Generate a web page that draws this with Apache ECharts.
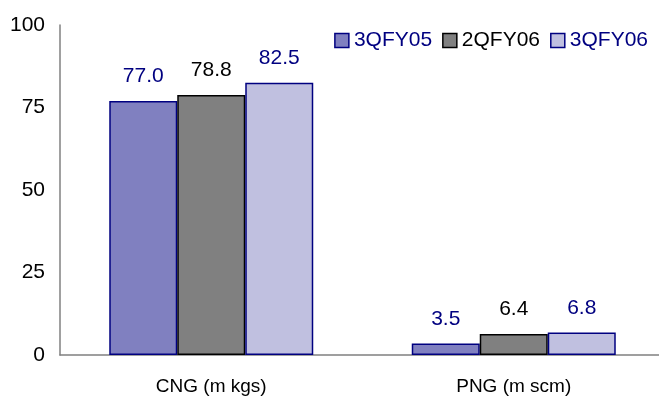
<!DOCTYPE html>
<html><head><meta charset="utf-8">
<script src="https://cdn.jsdelivr.net/npm/echarts@6/dist/echarts.min.js"></script>
<style>html,body{margin:0;padding:0;background:#fff}#c{width:659px;height:396px}</style>
</head><body><div id="c"></div>
<script>
const categories = ["CNG (m kgs)", "PNG (m scm)"];
const seriesNames = ["3QFY05", "2QFY06", "3QFY06"];
const s3QFY05 = [77.0, 3.5];
const s2QFY06 = [78.8, 6.4];
const s3QFY06 = [82.5, 6.8];
const yTicks = [0, 25, 50, 75, 100];

const FONT = "Liberation Sans, Arial, sans-serif";
const styles = [
  {fill: "#8080C0", border: "#000080", text: "#000080"},
  {fill: "#808080", border: "#000000", text: "#000000"},
  {fill: "#C0C0E0", border: "#000080", text: "#000080"}
];
const data = [s3QFY05, s2QFY06, s3QFY06];

const chart = echarts.init(document.getElementById("c"));
chart.setOption({
  animation: false,
  backgroundColor: "#fff",
  textStyle: {fontFamily: FONT},
  legend: {
    right: 6, top: 25,
    icon: "rect",
    itemWidth: 14, itemHeight: 14, itemGap: 10,
    data: seriesNames.map((n, i) => ({
      name: n,
      itemStyle: {color: styles[i].fill, borderColor: styles[i].border, borderWidth: 1.5},
      textStyle: {color: styles[i].text, fontSize: 21, fontFamily: FONT}
    })),
    textStyle: {fontSize: 21, fontFamily: FONT}
  },
  grid: {left: 60, top: 25, width: 605, height: 330, outerBoundsMode: "none", containLabel: false},
  xAxis: {
    type: "category",
    data: categories,
    axisLine: {lineStyle: {color: "#808080", width: 1.5}},
    axisTick: {show: false},
    axisLabel: {color: "#000", fontSize: 19, fontFamily: FONT, margin: 22}
  },
  yAxis: {
    type: "value",
    min: yTicks[0], max: yTicks[yTicks.length - 1], interval: 25,
    splitLine: {show: false},
    axisLine: {show: true, lineStyle: {color: "#808080", width: 1.5}},
    axisTick: {show: false},
    axisLabel: {color: "#000", fontSize: 21, fontFamily: FONT, margin: 15}
  },
  series: seriesNames.map((n, i) => ({
    name: n,
    type: "bar",
    data: data[i],
    barWidth: 68,
    barGap: "0%",
    itemStyle: {color: styles[i].fill, borderColor: styles[i].border, borderWidth: 1.5},
    label: {
      show: true, position: "top", distance: 14,
      color: styles[i].text, fontSize: 21, fontFamily: FONT,
      formatter: p => p.value.toFixed(1)
    }
  }))
});
</script></body></html>
